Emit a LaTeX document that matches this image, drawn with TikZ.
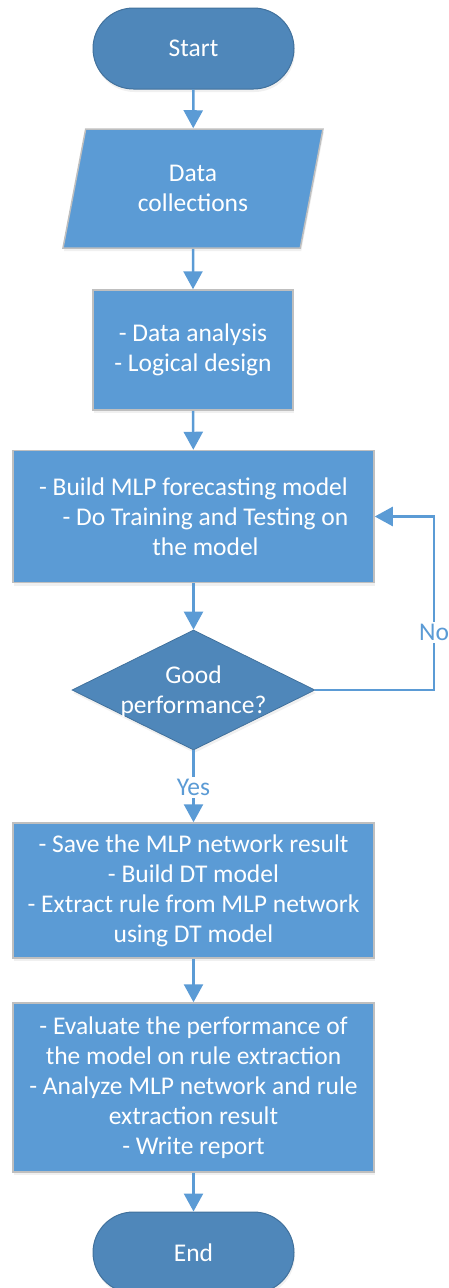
\documentclass[tikz,border=0pt]{standalone}
\usepackage{fontspec}
\setmainfont{Carlito}
\usetikzlibrary{shapes.geometric,shapes.misc,arrows.meta,shadows}
\definecolor{boxblue}{HTML}{5B9BD5}
\definecolor{darkblue}{HTML}{4F87BA}
\definecolor{termline}{HTML}{41719C}
\definecolor{greyline}{HTML}{BFBFBF}
\begin{document}
\begin{tikzpicture}[x=1pt,y=-1pt,
  base/.style={text=white, font=\fontsize{25.5}{30}\selectfont, align=center, inner sep=0pt,
    drop shadow={opacity=0.12, shadow xshift=1pt, shadow yshift=-3pt}},
  terminal/.style={base, rounded rectangle, fill=darkblue, draw=termline, line width=1pt,
    minimum width=201pt, minimum height=81pt},
  proc/.style={base, rectangle, fill=boxblue, draw=greyline, line width=1.5pt},
  io/.style={base, trapezium, trapezium left angle=64, trapezium right angle=116,
    trapezium stretches body, fill=boxblue, draw=greyline, line width=1.5pt,
    minimum width=260pt, minimum height=119pt},
  decision/.style={base, diamond, fill=darkblue, draw=termline, line width=0.8pt,
    minimum width=243pt, minimum height=120pt},
  flow/.style={draw=boxblue, line width=2.5pt, -{Triangle[width=19pt,length=18pt]}},
  lbl/.style={fill=white, text=boxblue, font=\fontsize{25.5}{30}\selectfont, inner sep=2pt}
]
\useasboundingbox (0,0) rectangle (449,1288);

\node[terminal] (start) at (193.5,48.5) {Start};
\node[io] (data) at (193,188.5) {Data\\collections};
\node[proc, minimum width=200pt, minimum height=120pt] (ana) at (193,350) {- Data analysis\\- Logical design};
\node[proc, minimum width=361pt, minimum height=132pt] (build) at (193.5,516.5)
  {- Build MLP forecasting model\\ \hspace*{24pt}- Do Training and Testing on\\ \hspace*{24pt}the model};
\node[decision] (dec) at (193.5,690) {};
\node[text=white, font=\fontsize{25.5}{30}\selectfont, align=center, inner sep=0pt] (dectext) at (193.5,692) {Good\\performance?};
\node[proc, minimum width=361pt, minimum height=135pt] (save) at (193.5,890.5)
  {- Save the MLP network result\\- Build DT model\\- Extract rule from MLP network\\using DT model};
\node[proc, minimum width=361pt, minimum height=169pt] (eval) at (193.5,1087.5)
  {- Evaluate the performance of\\the model on rule extraction\\- Analyze MLP network and rule\\extraction result\\- Write report};
\node[terminal] (end) at (193.5,1252.5) {End};

\draw[flow] (start) -- (data);
\draw[flow] (data) -- (ana);
\draw[flow] (ana) -- (build);
\draw[flow] (build) -- (dec);
\draw[flow] (dec.south) -- node[lbl, pos=0.52] {Yes} (save.north);
\draw[flow] (save) -- (eval);
\draw[flow] (eval) -- (end);

\coordinate (nocorner) at (434,690);
\coordinate (notop) at (nocorner |- build.east);
\draw[flow] (dec.east) -- (nocorner) -- node[lbl, pos=0.33] {No} (notop) -- (build.east);
\end{tikzpicture}
\end{document}
